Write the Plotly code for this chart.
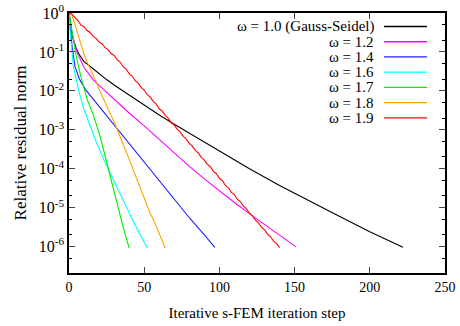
import plotly.graph_objects as go

# Convergence histories of SOR-accelerated iterative s-FEM (log10 of relative residual)
labels = ["ω = 1.0 (Gauss-Seidel)", "ω = 1.2", "ω = 1.4", "ω = 1.6", "ω = 1.7", "ω = 1.8", "ω = 1.9"]
colors = ["#000000", "#ff00ff", "#1f1fff", "#00ffff", "#00ee00", "#ffa500", "#ff0000"]

steps_10 = [0, 1, 2, 3, 5, 7, 10, 15, 20, 25, 30, 35, 40, 50, 60, 70, 80, 90, 100, 120, 140, 160,
            180, 200, 222]
log_res_10 = [0, -0.35, -0.55, -0.7, -0.93, -1.08, -1.25, -1.40, -1.56, -1.71, -1.85, -1.98, -2.11,
              -2.37, -2.62, -2.86, -3.09, -3.32, -3.55, -4.0, -4.43, -4.84, -5.23, -5.62, -6.02]

steps_12 = [0, 2, 4, 6, 10, 16, 20, 30, 40, 50, 60, 70, 80, 90, 100, 110, 124, 140, 151]
log_res_12 = [0, -0.5, -0.85, -1.07, -1.40, -1.71, -1.86, -2.22, -2.57, -2.90, -3.25, -3.60, -3.94,
              -4.26, -4.57, -4.87, -5.27, -5.71, -6.01]

steps_14 = [0, 1, 2, 4, 7, 11, 20, 27, 30, 40, 50, 60, 70, 80, 90, 97]
log_res_14 = [0, -0.5, -0.85, -1.38, -1.7, -1.97, -2.40, -2.74, -2.88, -3.36, -3.84, -4.32, -4.8,
              -5.26, -5.70, -6.02]

steps_16 = [0, 1, 3, 5, 7, 10, 14, 18, 23, 30, 37, 44, 52]
log_res_16 = [0, -0.6, -1.4, -1.75, -2.08, -2.48, -2.9, -3.3, -3.76, -4.33, -4.88, -5.45, -6.04]

steps_17 = [0, 1, 3, 5, 8, 12, 16, 20, 23, 26, 29, 32, 36, 40]
log_res_17 = [0, -0.25, -0.72, -1.15, -1.65, -2.22, -2.6, -3.08, -3.52, -3.98, -4.45, -4.92, -5.5, -6.04]

steps_18 = list(range(0, 65, 2))
log_res_18 = [0, -0.06, -0.3, -0.56, -0.82, -1.06, -1.26, -1.42, -1.58, -1.76, -1.96, -2.12, -2.3,
              -2.45, -2.6, -2.8, -2.98, -3.2, -3.38, -3.56, -3.76, -3.92, -4.13, -4.32, -4.53, -4.72,
              -4.92, -5.15, -5.3, -5.5, -5.7, -5.85, -6.04]

steps_19 = list(range(0, 141, 2))
log_res_19 = [0, -0.03, -0.12, -0.20, -0.31, -0.35, -0.45, -0.50, -0.60, -0.65, -0.75, -0.79, -0.89,
              -0.94, -1.04, -1.09, -1.20, -1.26, -1.38, -1.44, -1.56, -1.62, -1.74, -1.80, -1.91,
              -1.98, -2.10, -2.16, -2.27, -2.34, -2.46, -2.52, -2.63, -2.70, -2.82, -2.88, -2.99,
              -3.06, -3.17, -3.24, -3.35, -3.42, -3.53, -3.60, -3.71, -3.78, -3.89, -3.95, -4.07,
              -4.13, -4.25, -4.31, -4.43, -4.49, -4.61, -4.67, -4.79, -4.85, -4.96, -5.03, -5.14,
              -5.21, -5.32, -5.39, -5.50, -5.57, -5.68, -5.75, -5.86, -5.92, -6.03]

x_ticks = [0, 50, 100, 150, 200, 250]
y_tick_exponents = [0, -1, -2, -3, -4, -5, -6]

series = [
    (steps_10, log_res_10),
    (steps_12, log_res_12),
    (steps_14, log_res_14),
    (steps_16, log_res_16),
    (steps_17, log_res_17),
    (steps_18, log_res_18),
    (steps_19, log_res_19),
]

FONT = "Liberation Serif, Times New Roman, serif"

fig = go.Figure()
for (xs, ls), name, col in zip(series, labels, colors):
    fig.add_trace(go.Scatter(
        x=xs, y=[10 ** v for v in ls], mode="lines", name=name,
        line=dict(color=col, width=1.1), showlegend=False,
    ))

# gnuplot-style key: right-aligned text with the line sample on its right
key_text_x = 0.816
key_line_x0, key_line_x1 = 0.838, 0.952
key_top, key_step = 0.948, 0.0585
for i, (name, col) in enumerate(zip(labels, colors)):
    yk = key_top - i * key_step
    fig.add_annotation(x=key_text_x, y=yk, xref="paper", yref="paper", text=name,
                       showarrow=False, xanchor="right", yanchor="middle",
                       font=dict(family=FONT, size=15, color="black"))
    fig.add_shape(type="line", xref="paper", yref="paper", x0=key_line_x0, x1=key_line_x1,
                  y0=yk, y1=yk, line=dict(color=col, width=1.3))

minor_vals = []
for e in range(-7, 0):
    minor_vals += [2 * 10 ** e, 5 * 10 ** e]

fig.update_xaxes(
    range=[0, 250], tickvals=x_ticks, ticks="inside", ticklen=6, tickwidth=1,
    showline=True, linecolor="black", linewidth=1.5, mirror="ticks",
    showgrid=False, zeroline=False, automargin=False,
    tickfont=dict(family=FONT, size=14, color="black"),
    title=dict(text="Iterative s-FEM iteration step", font=dict(family=FONT, size=15, color="black"),
               standoff=14),
)
fig.update_yaxes(
    type="log", range=[-6.68, 0],
    tickvals=[10 ** e for e in y_tick_exponents],
    ticktext=[f"10<sup>{e}</sup>" for e in y_tick_exponents],
    ticks="inside", ticklen=6, tickwidth=1,
    minor=dict(tickvals=minor_vals, ticks="inside", ticklen=3, tickwidth=1, tickcolor="black"),
    showline=True, linecolor="black", linewidth=1.5, mirror="ticks",
    showgrid=False, zeroline=False, automargin=False,
    tickfont=dict(family=FONT, size=16, color="black"),
    title=dict(text="Relative residual norm", font=dict(family=FONT, size=17, color="black"),
               standoff=8),
)
fig.update_layout(
    width=460, height=326,
    margin=dict(l=69, r=15, t=13, b=53),
    paper_bgcolor="white", plot_bgcolor="white",
    showlegend=False,
)
fig.write_html("out.html")
